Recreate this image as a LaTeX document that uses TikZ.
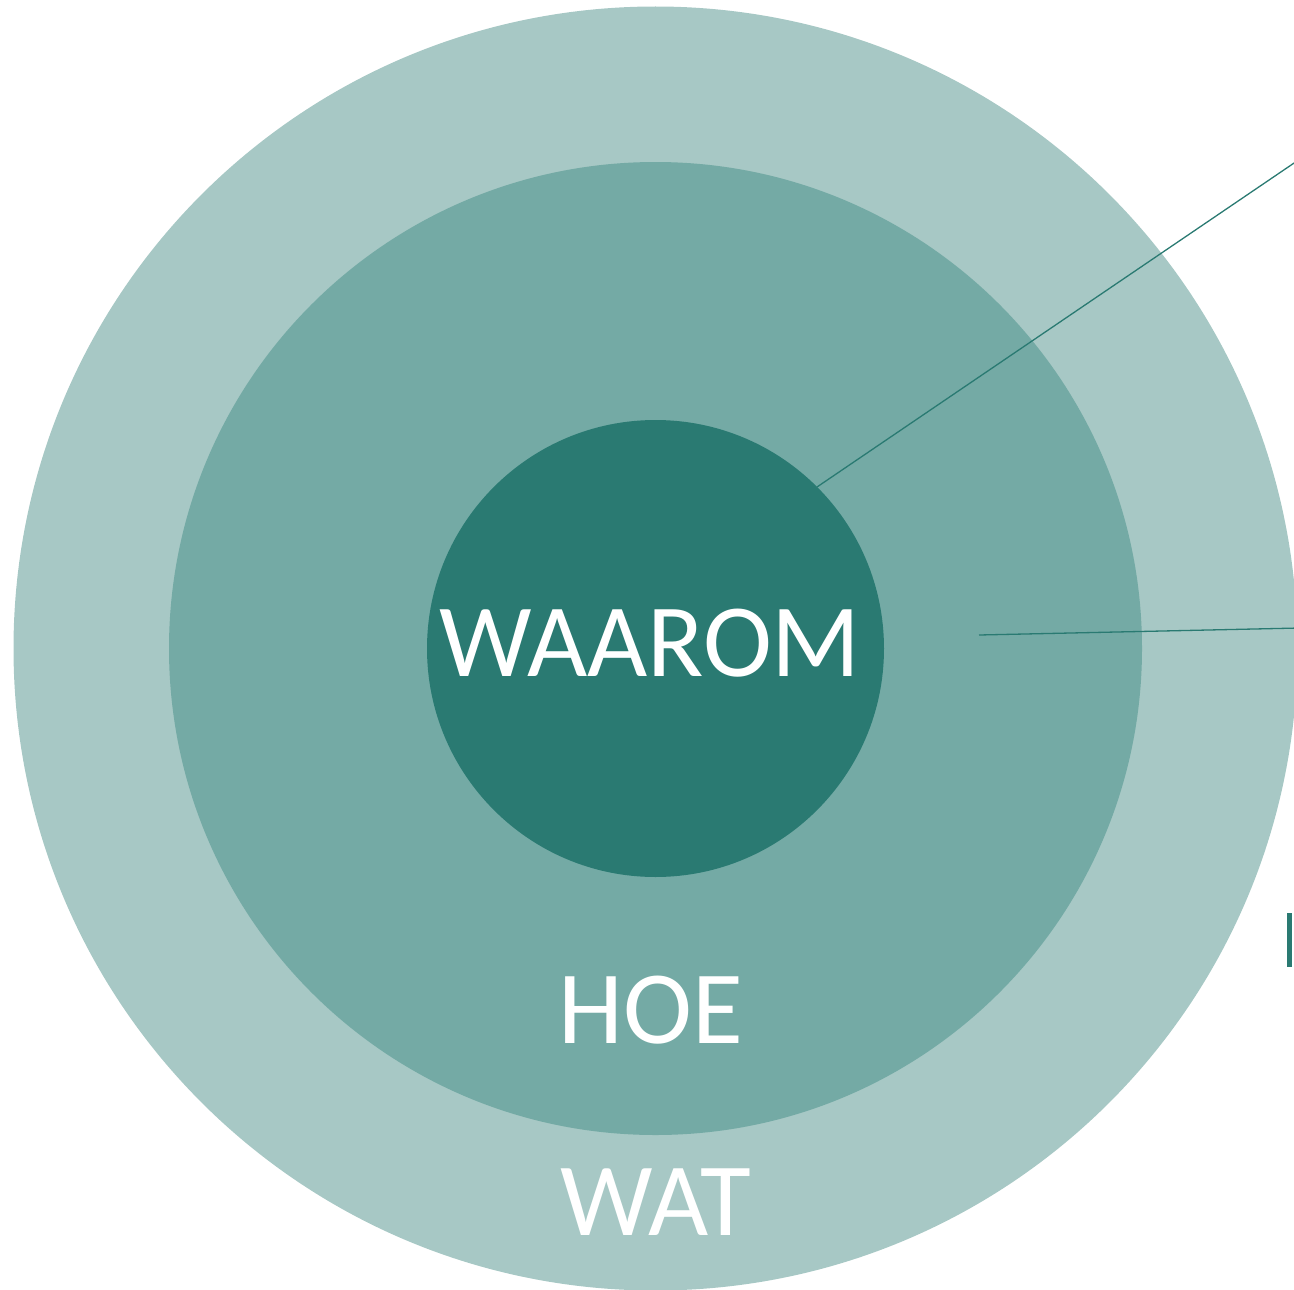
\documentclass[tikz,border=0pt]{standalone}
\usepackage{fontspec}
\setmainfont{Carlito}
\definecolor{outerc}{HTML}{A7C8C5}
\definecolor{midc}{HTML}{74AAA5}
\definecolor{innerc}{HTML}{2A7A72}
\begin{document}
\begin{tikzpicture}[x=1pt,y=-1pt,
  ring/.style={draw=none},
  lbl/.style={text=white,anchor=base,inner sep=0pt,font=\fontsize{104}{110}\selectfont},
  leader/.style={draw=innerc,line width=1.3pt}]
\useasboundingbox (0,0) rectangle (1294,1290);
\clip (0,0) rectangle (1294,1290);
\fill[outerc] (655.5,648.5) circle (642pt);
\fill[midc] (655.5,648.5) circle (486.5pt);
\fill[innerc] (655.5,648.5) circle (228.5pt);
\node[lbl] (why) at (650,676) {WAAROM};
\node[lbl] (how) at (651,1043) {HOE};
\node[lbl] (what) at (656,1235) {WAT};
\coordinate (a1) at (817,487);
\coordinate (a2) at (1300,159);
\coordinate (b1) at (979,635);
\coordinate (b2) at (1300,628);
\draw[leader] (a1) -- (a2);
\draw[leader] (b1) -- (b2);
\fill[innerc] (1287,913) rectangle (1291.5,967);
\end{tikzpicture}
\end{document}
